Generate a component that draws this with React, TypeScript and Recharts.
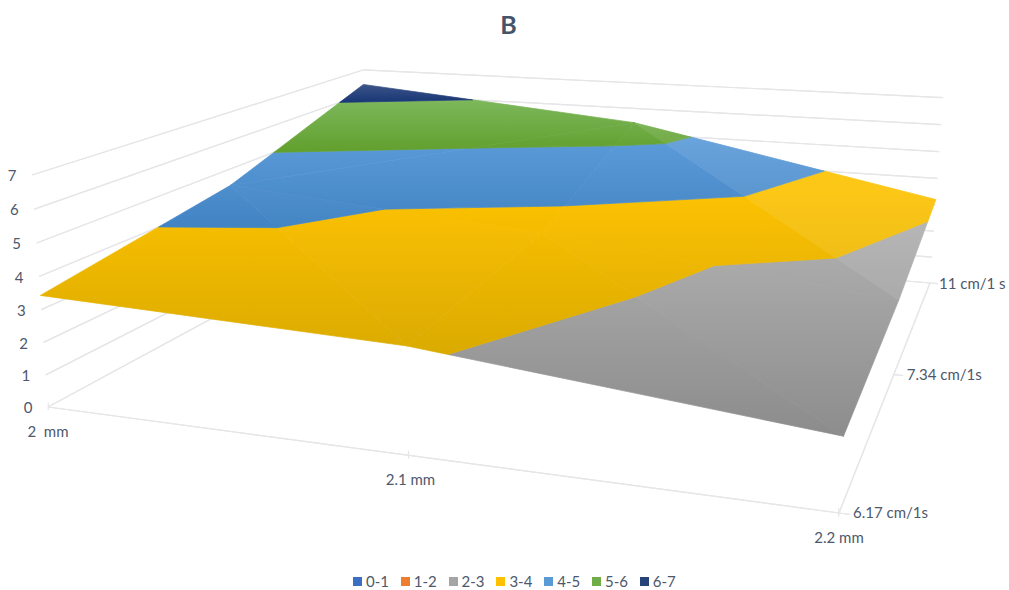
import React from 'react';
import { ComposedChart, Area, Scatter, XAxis, YAxis } from 'recharts';

const WIDTH = 1009;
const HEIGHT = 590;
const FONT = 'Lato, "Open Sans", sans-serif';
const TEXT_COLOR = '#4d586c';
const GRID_COLOR = '#e6e6e9';

// surface values: one row per speed, one column per thickness
const thicknessLabels = ['2  mm', '2.1 mm', '2.2 mm'];
const speedLabels = ['6.17 cm/1s', '7.34 cm/1s', '11 cm/1 s'];
const zTicks = [0, 1, 2, 3, 4, 5, 6, 7];
const row617 = [3.43, 3.11, 2.02];
const row734 = [4.42, 3.6, 2.4];
const row11 = [6.4, 5.44, 3.2];
const surface = [row617, row734, row11];

const bandNames = ['0-1', '1-2', '2-3', '3-4', '4-5', '5-6', '6-7'];
const bandColors = ['#3a6fc4', '#ed7d31', '#a5a5a5', '#ffc000', '#5b9bd5', '#70ad47', '#264478'];

// top / bottom shade of every band, vertical gradient in page space
const bandGradients: [number, string, number, string][] = [
  [300, '#4472c4', 400, '#2f5597'],
  [300, '#ed7d31', 400, '#c55a11'],
  [230, '#aeaeae', 440, '#8b8b8b'],
  [190, '#fdc200', 350, '#dbab00'],
  [140, '#5b9ad9', 235, '#3f82c1'],
  [95, '#80ba60', 150, '#62a02f'],
  [84, '#3d5688', 100, '#1d3a78'],
];

// facets of the mesh as [row, col] corners, with a small light tint
type Corner = [number, number];
const facets: { corners: Corner[]; tint: number }[] = [
  { corners: [[0, 0], [0, 1], [1, 0]], tint: 0 },
  { corners: [[0, 1], [1, 1], [1, 0]], tint: 0.012 },
  { corners: [[0, 1], [0, 2], [1, 1]], tint: 0 },
  { corners: [[0, 2], [1, 2], [1, 1]], tint: 0.012 },
  { corners: [[1, 0], [1, 1], [2, 1]], tint: 0 },
  { corners: [[1, 0], [2, 1], [2, 0]], tint: 0 },
  { corners: [[1, 1], [1, 2], [2, 1]], tint: 0.012 },
  { corners: [[1, 2], [2, 2], [2, 1]], tint: 0.09 },
];

// camera: the floor corners on the page and the vanishing point of the value axis
const floorFL = [48, 407];
const floorFR = [839, 513];
const floorBR = [930, 283];
const floorBL = [366, 235];
const vanish = [479, 6662];
const zDepth = -0.00511;

const sx = floorFL[0] - floorFR[0] + floorBR[0] - floorBL[0];
const sy = floorFL[1] - floorFR[1] + floorBR[1] - floorBL[1];
const dx1 = floorFR[0] - floorBR[0];
const dx2 = floorBL[0] - floorBR[0];
const dy1 = floorFR[1] - floorBR[1];
const dy2 = floorBL[1] - floorBR[1];
const det = dx1 * dy2 - dx2 * dy1;
const g = (sx * dy2 - dx2 * sy) / det;
const h = (dx1 * sy - sx * dy1) / det;

const project = (u: number, v: number, z: number) => {
  const w = 1 + g * u + h * v;
  const q = zDepth * z;
  const px = (floorFR[0] - floorFL[0] + g * floorFR[0]) * u + (floorBL[0] - floorFL[0] + h * floorBL[0]) * v + floorFL[0];
  const py = (floorFR[1] - floorFL[1] + g * floorFR[1]) * u + (floorBL[1] - floorFL[1] + h * floorBL[1]) * v + floorFL[1];
  return { x: (px + q * vanish[0]) / (w + q), y: (py + q * vanish[1]) / (w + q) };
};

type P3 = [number, number, number];

const meshPoint = ([row, col]: Corner): P3 => [col / 2, row / 2, surface[row][col]];

// keep the part of a polygon on one side of a value level
const clipLevel = (poly: P3[], level: number, keepAbove: boolean) => {
  const inside = (p: P3) => (keepAbove ? p[2] >= level : p[2] <= level);
  const out: P3[] = [];
  poly.forEach((a, i) => {
    const b = poly[(i + 1) % poly.length];
    if (inside(a)) out.push(a);
    if (inside(a) !== inside(b)) {
      const t = (level - a[2]) / (b[2] - a[2]);
      out.push([a[0] + (b[0] - a[0]) * t, a[1] + (b[1] - a[1]) * t, level]);
    }
  });
  return out;
};

// convex page polygon -> rows of x with a [low, high] range, as Area wants them
const toRangeRows = (poly: { x: number; y: number }[]) => {
  const xs = Array.from(new Set(poly.map((p) => Math.round(p.x * 100) / 100))).sort((a, b) => a - b);
  return xs.map((x) => {
    const ys: number[] = [];
    poly.forEach((a, i) => {
      const b = poly[(i + 1) % poly.length];
      const lo = Math.min(a.x, b.x) - 0.006;
      const hi = Math.max(a.x, b.x) + 0.006;
      if (x < lo || x > hi) return;
      if (Math.abs(a.x - b.x) < 0.01) ys.push(a.y, b.y);
      else ys.push(a.y + ((b.y - a.y) * (x - a.x)) / (b.x - a.x));
    });
    return { x, range: [Math.min(...ys), Math.max(...ys)] };
  });
};

const bandPieces: { band: number; rows: ReturnType<typeof toRangeRows> }[] = [];
facets.forEach((facet) => {
  bandNames.forEach((_, band) => {
    let poly = facet.corners.map(meshPoint);
    poly = clipLevel(poly, band, true);
    if (poly.length) poly = clipLevel(poly, band + 1, false);
    if (poly.length < 3) return;
    bandPieces.push({ band, rows: toRangeRows(poly.map((p) => project(p[0], p[1], p[2]))) });
  });
});

const facetPieces = facets
  .filter((facet) => facet.tint > 0)
  .map((facet) => ({
    tint: facet.tint,
    rows: toRangeRows(facet.corners.map(meshPoint).map((p) => project(p[0], p[1], p[2]))),
  }));

// a straight grid line as a zero-height range, so it stacks with the surface in child order
const segment = (a: P3, b: P3) => {
  const pts = [project(a[0], a[1], a[2]), project(b[0], b[1], b[2])].sort((p, q) => p.x - q.x);
  return pts.map((p) => ({ x: p.x, range: [p.y, p.y] }));
};

const tickUp = (u: number) => {
  const low = project(u, 0, -0.1);
  const high = project(u, 0, 0.13);
  return [
    { x: low.x - 0.01, range: [low.y, low.y] },
    { x: low.x + 0.01, range: [high.y, low.y] },
  ];
};

const gridSegments = [
  ...zTicks.map((z) => segment([0, 0, z], [0, 1, z])),
  ...zTicks.map((z) => segment([0, 1, z], [1, 1, z])),
  segment([0, 0, 0], [1, 0, 0]),
  segment([1, 0, 0], [1, 1, 0]),
  ...thicknessLabels.map((_, i) => tickUp(i / 2)),
  ...speedLabels.map((_, i) => segment([1, i / 2, 0], [1.012, i / 2, 0])),
];

type TextMark = { x: number; y: number; text: string; anchor: string };

const offsetLabel = (p: { x: number; y: number }, dx: number, dy: number, text: string, anchor: string): TextMark => ({
  x: p.x + dx,
  y: p.y + dy,
  text,
  anchor,
});

const axisLabels: TextMark[] = [
  ...zTicks.map((z) => offsetLabel(project(0, 0, z), -20, 1, String(z), 'middle')),
  ...thicknessLabels.map((t, i) => offsetLabel(project(i / 2, 0, 0), i === 1 ? 2 : 0, 24.5, t, 'middle')),
  ...speedLabels.map((t, i) => offsetLabel(project(1, i / 2, 0), [14, 13, 9][i], [0, 0, 1][i], t, 'start')),
];

const TextShape = (props: any) => (
  <text
    x={props.cx}
    y={props.cy}
    dy="0.35em"
    textAnchor={props.payload.anchor}
    fontFamily={FONT}
    fontSize={15}
    fill={TEXT_COLOR}
    style={{ whiteSpace: 'pre' }}
  >
    {props.payload.text}
  </text>
);

const App = () => (
  <div style={{ position: 'absolute', left: 0, top: 0, width: WIDTH, height: HEIGHT, background: '#fff' }}>
    <ComposedChart width={WIDTH} height={HEIGHT} margin={{ top: 0, right: 0, bottom: 0, left: 0 }}>
      <defs>
        {bandGradients.map(([y1, c1, y2, c2], i) => (
          <linearGradient key={i} id={`band${i}`} gradientUnits="userSpaceOnUse" x1={0} x2={0} y1={y1} y2={y2}>
            <stop offset="0" stopColor={c1} />
            <stop offset="1" stopColor={c2} />
          </linearGradient>
        ))}
      </defs>
      <XAxis type="number" dataKey="x" domain={[0, WIDTH]} hide />
      <YAxis type="number" dataKey="y" domain={[0, HEIGHT]} reversed hide />
      {gridSegments.map((rows, i) => (
        <Area
          key={`grid${i}`}
          data={rows}
          dataKey="range"
          type="linear"
          fill="none"
          stroke={GRID_COLOR}
          strokeWidth={1.2}
          dot={false}
          activeDot={false}
          isAnimationActive={false}
        />
      ))}
      {bandPieces.map((piece, i) => (
        <Area
          key={`piece${i}`}
          data={piece.rows}
          dataKey="range"
          type="linear"
          fill={`url(#band${piece.band})`}
          fillOpacity={1}
          stroke={`url(#band${piece.band})`}
          strokeWidth={0.7}
          dot={false}
          activeDot={false}
          isAnimationActive={false}
        />
      ))}
      {facetPieces.map((piece, i) => (
        <Area
          key={`facet${i}`}
          data={piece.rows}
          dataKey="range"
          type="linear"
          fill="#fff"
          fillOpacity={piece.tint}
          stroke="none"
          dot={false}
          activeDot={false}
          isAnimationActive={false}
        />
      ))}
      <Scatter data={axisLabels} shape={TextShape} isAnimationActive={false} />
    </ComposedChart>
    <div
      style={{
        position: 'absolute',
        left: 0,
        width: WIDTH,
        top: 8,
        textAlign: 'center',
        fontFamily: FONT,
        fontWeight: 700,
        fontSize: 25,
        lineHeight: '32px',
        color: '#44546a',
        paddingLeft: 8,
        boxSizing: 'border-box',
      }}
    >
      B
    </div>
    <div style={{ position: 'absolute', left: 353, top: 571, display: 'flex', fontFamily: FONT, fontSize: 15, color: TEXT_COLOR }}>
      {bandNames.map((name, i) => (
        <div key={name} style={{ width: 47.8, display: 'flex', alignItems: 'center', lineHeight: '20px' }}>
          <span style={{ width: 9, height: 9, background: bandColors[i], marginRight: 4 }} />
          {name}
        </div>
      ))}
    </div>
  </div>
);

export default App;
